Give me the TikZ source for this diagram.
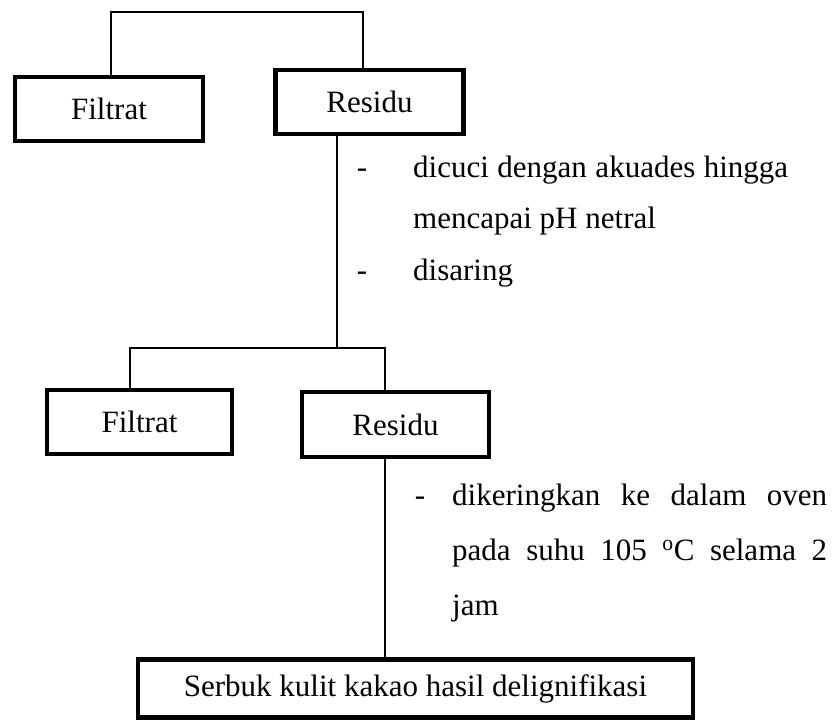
\documentclass[tikz,border=0pt]{standalone}
\usepackage{fontspec}
\setmainfont{Liberation Serif}

\begin{document}
\begin{tikzpicture}[
	x=1pt, y=-1pt,
	box/.style = {% process boxes
		draw, line width=4.5pt, inner sep=0pt, minimum height=64pt,
		font=\fontsize{31}{37}\selectfont,},
	ln/.style = {line width=1.8pt},
	bul/.style = {% list dashes
		anchor=base, inner sep=0pt, font=\fontsize{31}{37}\selectfont,},
	txt/.style = {% notes
		anchor=base west, inner sep=0pt, text width=375pt, align=justify,},
	]
	
	\useasboundingbox (0,0) rectangle (840,720);
	
	% boxes
	\node[box, minimum width=188pt] (filtA) at (109,109) {Filtrat};
	\node[box, minimum width=188pt] (resA) at (369.5,102) {Residu};
	\node[box, minimum width=185pt] (filtB) at (139.5,422) {Filtrat};
	\node[box, minimum width=187pt, minimum height=65pt] (resB) at (395.5,424.5) {Residu};
	\node[box, minimum width=555pt, minimum height=58pt] (serbuk) at (415.5,688.5)
		{Serbuk kulit kakao hasil delignifikasi};
	
	% connectors
	\coordinate (topL) at (111,12);
	\coordinate (topR) at (363,12);
	\draw[ln] (filtA.north -| topL) -- (topL) -- (topR) -- (resA.north -| topR);
	\coordinate (splitB) at (337,348);
	\coordinate (midL) at (130,348);
	\coordinate (midR) at (385,348);
	\draw[ln] (resA.south -| splitB) -- (splitB);
	\draw[ln] (filtB.north -| midL) -- (midL) -- (midR) -- (resB.north -| midR);
	\coordinate (downC) at (385,600);
	\draw[ln] (resB.south -| downC) -- (serbuk.north -| downC);
	
	% notes
	\node[bul] (dA1) at (362,177) {-};
	\node[bul] (dA2) at (362,280) {-};
	\node[txt, font=\fontsize{31}{51.5}\selectfont] (noteA) at (413,177)
		{\tolerance=10000\hyphenpenalty=10000 dicuci dengan akuades hingga\linebreak
		 mencapai pH netral\newline disaring};
	\node[bul] (dB1) at (420,505) {-};
	\node[txt, font=\fontsize{31}{55}\selectfont] (noteB) at (452,505)
		{\tolerance=10000\hyphenpenalty=10000 dikeringkan ke dalam oven\linebreak
		 pada suhu 105 \textsuperscript{o}C selama 2\linebreak jam};

\end{tikzpicture}
\end{document}
